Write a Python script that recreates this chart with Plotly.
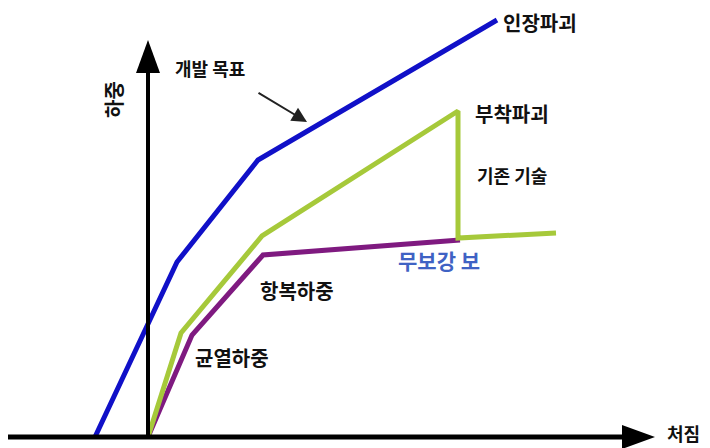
import plotly.graph_objects as go

# 처짐(x) / 하중(y) 개념도 - 원점 기준 상대값
blue_x = [-53, 29, 110, 349]
blue_y = [0, 175, 277, 417]

green_x = [0, 33, 114, 310, 310, 408]
green_y = [0, 104, 201, 326, 199, 204]

purple_x = [0, 44, 115, 312]
purple_y = [0, 102, 182, 197]

FONT = "Noto Sans CJK KR"

fig = go.Figure()

fig.add_trace(go.Scatter(x=blue_x, y=blue_y, mode='lines',
                         line=dict(color='#1010c8', width=5), hoverinfo='skip'))
fig.add_trace(go.Scatter(x=purple_x, y=purple_y, mode='lines',
                         line=dict(color='#7f1a80', width=5), hoverinfo='skip'))
fig.add_trace(go.Scatter(x=green_x, y=green_y, mode='lines',
                         line=dict(color='#a6c93a', width=5), hoverinfo='skip'))

# 축 (화살표)
shapes = [
    dict(type='line', x0=-148, y0=0, x1=478, y1=0, line=dict(color='black', width=5)),
    dict(type='path', path='M 474,-12 L 507,0 L 474,12 Z', fillcolor='black', line=dict(width=0)),
    dict(type='line', x0=0, y0=0, x1=0, y1=368, line=dict(color='black', width=4)),
    dict(type='path', path='M -12,364 L 0,397 L 12,364 Z', fillcolor='black', line=dict(width=0)),
]

def lab(x, y, text, size=19, color='#111111', xanchor='left', angle=0):
    return dict(x=x, y=y, text='<b>%s</b>' % text, showarrow=False, xanchor=xanchor,
                yanchor='middle', textangle=angle, borderpad=0,
                font=dict(family=FONT, size=size, color=color))

annotations = [
    lab(354, 415, '인장파괴', 20),
    lab(326, 324, '부착파괴', 20),
    lab(328, 262, '기존 기술', 18),
    lab(249, 177, '무보강 보', 21, color='#3f62c4'),
    lab(111, 147, '항복하중', 20),
    lab(46, 80, '균열하중', 20),
    lab(518, 4, '처짐', 18),
    lab(-35, 337, '하중', 20, xanchor='center', angle=-90),
    lab(26, 369, '개발 목표', 18),
    dict(x=159, y=315, ax=109, ay=345, xref='x', yref='y', axref='x', ayref='y',
         showarrow=True, arrowhead=2, arrowsize=1.5, arrowwidth=2, arrowcolor='#222222',
         text=''),
]

# 페이지 여백(8px)을 감안해 702x440으로 그림
fig.update_layout(
    width=702, height=440,
    margin=dict(l=0, r=0, t=0, b=0),
    paper_bgcolor='white', plot_bgcolor='white',
    showlegend=False,
    shapes=shapes,
    annotations=annotations,
    xaxis=dict(range=[-140, 562], visible=False, fixedrange=True),
    yaxis=dict(range=[-11, 429], visible=False, fixedrange=True),
)

fig.write_html("out.html")
